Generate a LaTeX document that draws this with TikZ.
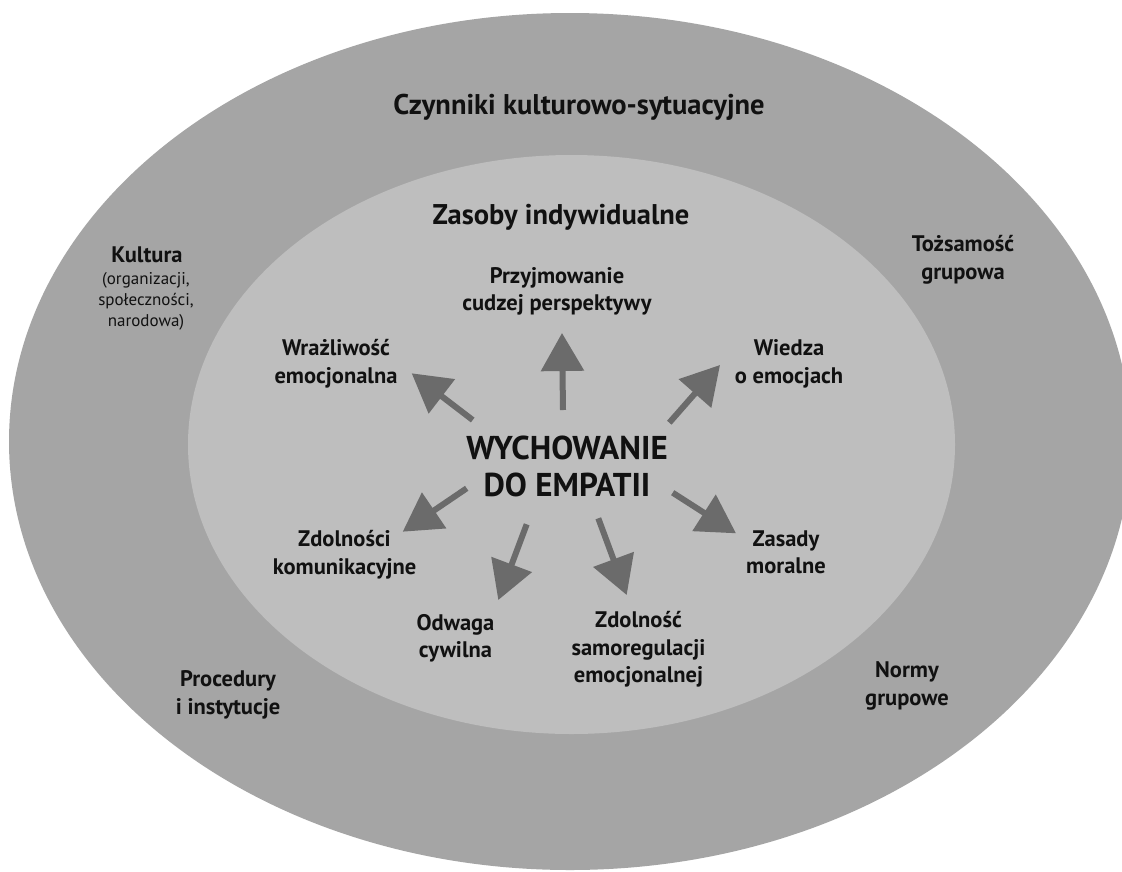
\documentclass[tikz,border=0pt]{standalone}
\usepackage{fontspec}
\setmainfont{PT Sans}
\usetikzlibrary{arrows.meta}
\definecolor{outergray}{HTML}{A5A5A5}
\definecolor{innergray}{HTML}{BEBEBE}
\definecolor{arrowgray}{HTML}{6B6B6B}
\definecolor{txt}{HTML}{111111}
\tikzset{
  lbl/.style={align=center, text=txt, inner sep=0pt, font=\bfseries\fontsize{22.5}{27.5}\selectfont},
  head/.style={align=center, text=txt, inner sep=0pt, font=\bfseries\fontsize{28.5}{32}\selectfont},
  center/.style={align=center, text=txt, inner sep=0pt, font=\bfseries\fontsize{33}{37}\selectfont},
  small/.style={align=center, text=txt, inner sep=0pt, font=\fontsize{17}{21}\selectfont},
  arr/.style={draw=arrowgray, line width=6pt, -{Triangle[length=38pt, width=42pt]}, arrowgray}
}
\begin{document}
\begin{tikzpicture}[x=1pt, y=-1pt]
\useasboundingbox (0,0) rectangle (1122,871);
\fill[white] (0,0) rectangle (1122,871);
\fill[outergray] (570,441.5) ellipse [x radius=561, y radius=428.5];
\fill[innergray] (571.5,444.5) ellipse [x radius=383.5, y radius=289.5];

\node[head] (czyn) at (579,107) {Czynniki kulturowo-sytuacyjne};
\node[head] (zasoby) at (561,217) {Zasoby indywidualne};
\node[lbl] (kultura) at (147,255) {Kultura};
\node[small] (kultsub) at (146,301) {(organizacji,\\społeczności,\\narodowa)};
\node[lbl] (toz) at (963,260) {Tożsamość\\grupowa};
\node[lbl] (proc) at (228,695) {Procedury\\i instytucje};
\node[lbl] (normy) at (907,686) {Normy\\grupowe};

\node[center] (wych) at (567,466.5) {WYCHOWANIE\\DO EMPATII};
\node[lbl] (przyj) at (557,291.5) {Przyjmowanie\\cudzej perspektywy};
\node[lbl] (wraz) at (336,363.5) {Wrażliwość\\emocjonalna};
\node[lbl] (wiedza) at (789,364) {Wiedza\\o emocjach};
\node[lbl] (zasady) at (786,552.5) {Zasady\\moralne};
\node[lbl] (zdoln) at (344.5,554.5) {Zdolności\\komunikacyjne};
\node[lbl] (odwaga) at (455.5,638.5) {Odwaga\\cywilna};
\node[lbl] (zdolnosc) at (638.5,649.5) {Zdolność\\samoregulacji\\emocjonalnej};

\coordinate (s1) at (563,410);   \coordinate (e1) at (562,333);
\coordinate (s2) at (472.7,420); \coordinate (e2) at (411.7,373.3);
\coordinate (s3) at (669.3,422.7); \coordinate (e3) at (720,365);
\coordinate (s4) at (466.7,488.3); \coordinate (e4) at (402.7,531.7);
\coordinate (s5) at (526.7,524.3); \coordinate (e5) at (498.3,600);
\coordinate (s6) at (598.3,518.3); \coordinate (e6) at (626.7,595);
\coordinate (s7) at (672.7,492.7); \coordinate (e7) at (736,533.3);

\draw[arr] (s1) -- (e1);
\draw[arr] (s2) -- (e2);
\draw[arr] (s3) -- (e3);
\draw[arr] (s4) -- (e4);
\draw[arr] (s5) -- (e5);
\draw[arr] (s6) -- (e6);
\draw[arr] (s7) -- (e7);
\end{tikzpicture}
\end{document}
